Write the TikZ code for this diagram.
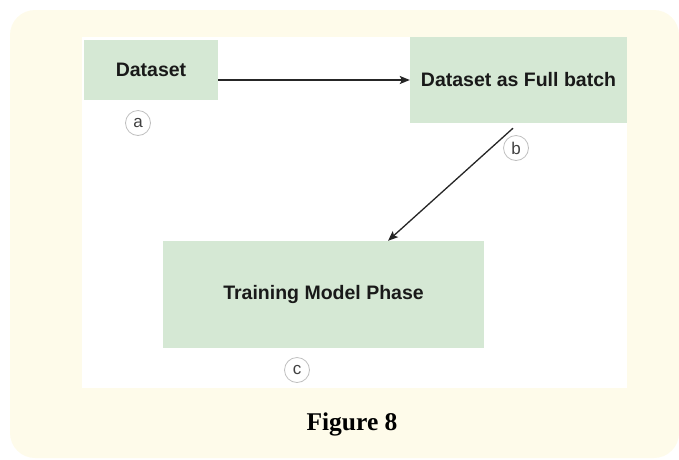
\documentclass[tikz,border=0pt]{standalone}
\usepackage{fontspec}
\setmainfont{Liberation Serif}
\setsansfont{Liberation Sans}
\usetikzlibrary{arrows.meta}
\definecolor{cream}{HTML}{FEFBEA}
\definecolor{boxgreen}{HTML}{D5E8D4}

\begin{document}
\begin{tikzpicture}[x=1pt,y=-1pt,>={Stealth[length=10pt,width=8pt,inset=2pt]},
  box/.style={fill=boxgreen,inner sep=0pt,text=black!90,
    font=\sffamily\bfseries\fontsize{19.5}{22}\selectfont},
  lbl/.style={circle,draw=black!25,line width=0.8pt,minimum size=25pt,inner sep=0pt,
    text=black!75,font=\sffamily\fontsize{17}{18}\selectfont},
  link/.style={->,line width=1.3pt,draw=black!85}]
  \useasboundingbox (0,0) rectangle (679,459);
  % frame
  \fill[cream,rounded corners=25pt] (10,10) rectangle (679,458);
  \fill[white] (82,37) rectangle (627,388);
  % stages
  \node[box,minimum width=134pt,minimum height=60pt] (ds) at (151,70) {Dataset};
  \node[box,minimum width=217pt,minimum height=86pt] (fb) at (518.5,80) {Dataset as Full batch};
  \node[box,minimum width=321pt,minimum height=107pt] (tm) at (323.5,294.5) {Training Model Phase};
  % flow
  \draw[link] (ds.east |- fb.west) -- (fb.west);
  \draw[link] ([xshift=-5.5pt,yshift=-5pt]fb.south) -- ([xshift=64.5pt]tm.north);
  % step marks
  \node[lbl] (la) at (138,123) {a};
  \node[lbl] (lb) at (516,148) {b};
  \node[lbl] (lc) at (297,370) {c};
  \node[anchor=base,font=\bfseries\fontsize{25.5}{28}\selectfont] (cap) at (352,430) {Figure 8};
\end{tikzpicture}
\end{document}
